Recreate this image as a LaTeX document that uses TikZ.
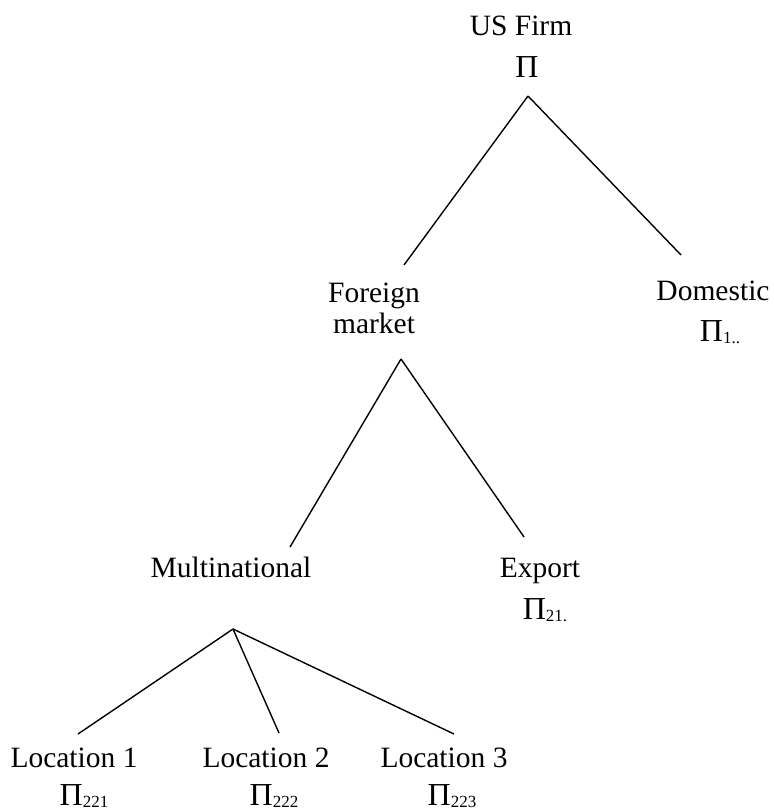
\documentclass[tikz,border=0pt]{standalone}
\usepackage{fontspec}
\setmainfont{Liberation Serif}
\usetikzlibrary{positioning}
\newcommand{\profit}[1]{{\fontsize{16}{16}\selectfont Π}\raisebox{-1pt}{\fontsize{8.5}{8.5}\selectfont #1}}

\begin{document}
\begin{tikzpicture}[x=0.5pt,y=-0.5pt,line width=0.7pt,
    main node/.style={align=center,inner sep=0pt,anchor=base,font=\fontsize{14.75}{15.5}\selectfont}]

    \useasboundingbox (0,0) rectangle (773,812);

    \node[main node] (1) at (521,36) {US Firm};
    \node[main node] (1p) at (527,78) {\profit{}};

    \node[main node,anchor=center] (2) at (374,308) {Foreign\\market};
    \node[main node] (3) at (713,300) {Domestic};
    \node[main node] (3p) at (720,341) {\profit{1..}};

    \node[main node] (4) at (231,577) {Multinational};
    \node[main node] (5) at (540,577) {Export};
    \node[main node] (5p) at (545,619) {\profit{21.}};

    \node[main node] (6) at (74,767) {Location 1};
    \node[main node] (6p) at (84,805) {\profit{221}};
    \node[main node] (7) at (266,767) {Location 2};
    \node[main node] (7p) at (274,805) {\profit{222}};
    \node[main node] (8) at (444,767) {Location 3};
    \node[main node] (8p) at (452,805) {\profit{223}};

    % branch points
    \coordinate (1a) at (528,96);
    \coordinate (2t) at (404,265);
    \coordinate (3t) at (681,255);
    \coordinate (2a) at (401,359);
    \coordinate (4t) at (290,547);
    \coordinate (5t) at (524,537);
    \coordinate (4a) at (233,629);
    \coordinate (6t) at (78,734);
    \coordinate (7t) at (279,733);
    \coordinate (8t) at (454,734);

    \path[draw] (1a) edge (2t);
    \path[draw] (1a) edge (3t);

    \path[draw] (2a) edge (4t);
    \path[draw] (2a) edge (5t);

    \path[draw] (4a) edge (6t);
    \path[draw] (4a) edge (7t);
    \path[draw] (4a) edge (8t);
\end{tikzpicture}
\end{document}
